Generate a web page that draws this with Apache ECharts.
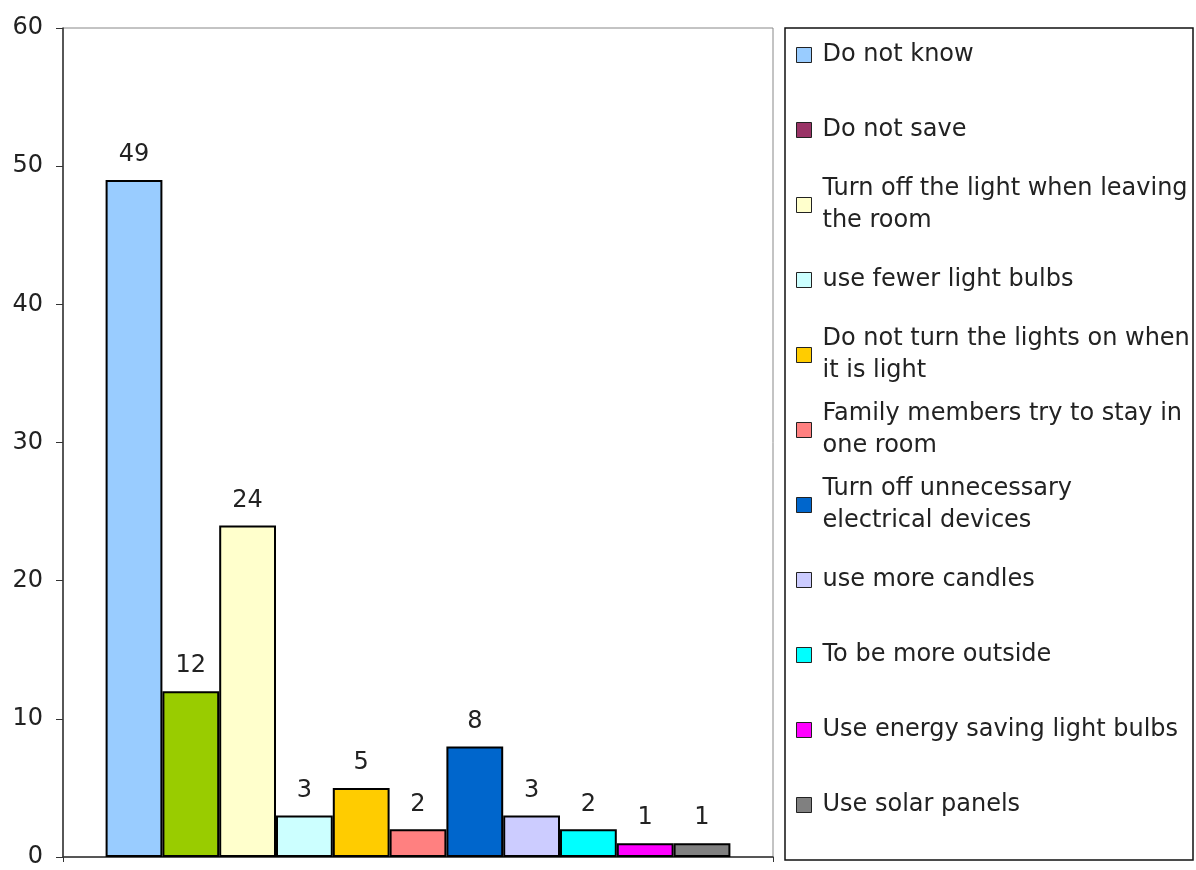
<!DOCTYPE html>
<html>
<head>
<meta charset="utf-8">
<script src="https://cdn.jsdelivr.net/npm/echarts@6/dist/echarts.min.js"></script>
<style>
  html, body { margin: 0; padding: 0; background: #fff; }
  #chart { width: 1196px; height: 870px; }
</style>
</head>
<body>
<div id="chart"></div>
<script>
const names = [
  'Do not know',
  'Do not save',
  'Turn off the light when leaving the room',
  'use fewer light bulbs',
  'Do not turn the lights on when it is light',
  'Family members try to stay in one room',
  'Turn off unnecessary electrical devices',
  'use more candles',
  'To be more outside',
  'Use energy saving light bulbs',
  'Use solar panels'
]
// legend text as wrapped in the original box
const legendLabels = [
  'Do not know',
  'Do not save',
  'Turn off the light when leaving\nthe room',
  'use fewer light bulbs',
  'Do not turn the lights on when\nit is light',
  'Family members try to stay in\none room',
  'Turn off unnecessary\nelectrical devices',
  'use more candles',
  'To be more outside',
  'Use energy saving light bulbs',
  'Use solar panels'
]
const values = [49, 12, 24, 3, 5, 2, 8, 3, 2, 1, 1]
const barColors = ['#99CCFF', '#99CC00', '#FFFFCC', '#CCFFFF', '#FFCC00', '#FF8080',
  '#0066CC', '#CCCCFF', '#00FFFF', '#FF00FF', '#808080']
// the original legend shows a different swatch for "Do not save"
const legendColors = ['#99CCFF', '#993366', '#FFFFCC', '#CCFFFF', '#FFCC00', '#FF8080',
  '#0066CC', '#CCCCFF', '#00FFFF', '#FF00FF', '#808080']
const yTicks = { min: 0, max: 60, interval: 10 }

const font = '"DejaVu Sans", Arial, sans-serif'
const LH = 32

const chart = echarts.init(document.getElementById('chart'))

chart.setOption({
  backgroundColor: '#fff',
  animation: false,
  textStyle: { fontFamily: font },
  grid: {
    left: 63, top: 28, right: 423, bottom: 13,
    show: true, borderColor: '#888', borderWidth: 1, containLabel: false
  },
  xAxis: {
    type: 'category',
    data: [''],
    axisLine: { lineStyle: { color: '#333', width: 1.5 } },
    axisTick: { show: true, length: 5, lineStyle: { color: '#333' } },
    axisLabel: { show: false },
    splitLine: { show: false }
  },
  yAxis: {
    type: 'value',
    min: yTicks.min, max: yTicks.max, interval: yTicks.interval,
    axisLine: { show: true, lineStyle: { color: '#333', width: 1.5 } },
    axisTick: { show: true, length: 7, lineStyle: { color: '#333' } },
    axisLabel: { fontSize: 24, color: '#222', margin: 20, fontFamily: font },
    splitLine: { show: false }
  },
  graphic: [{
    type: 'rect',
    shape: { x: 785, y: 28, width: 408, height: 832 },
    style: { fill: 'none', stroke: '#111', lineWidth: 1.5 },
    z: 0
  }],
  legend: {
    orient: 'vertical',
    left: 796, top: 55 - 1.5 * LH,
    padding: 0,
    itemGap: 75 - 3 * LH,
    itemWidth: 15, itemHeight: 15,
    icon: 'rect',
    selectedMode: false,
    itemStyle: { borderColor: '#222', borderWidth: 1 },
    textStyle: { fontSize: 24, color: '#222', lineHeight: LH, fontFamily: font },
    formatter: n => legendLabels[names.indexOf(n)],
    data: names.map((n, i) => ({
      name: n,
      itemStyle: { color: legendColors[i], borderColor: '#222', borderWidth: 1 },
      textStyle: {
        padding: legendLabels[i].includes('\n') ? [LH, 0, 0, 6] : [LH, 0, LH, 6]
      }
    }))
  },
  series: names.map((n, i) => ({
    name: n,
    type: 'bar',
    barGap: '0%',
    barCategoryGap: '12%',
    data: [values[i]],
    itemStyle: { color: barColors[i], borderColor: '#000', borderWidth: 2 },
    label: {
      show: true, position: 'top', distance: 13,
      fontSize: 24, color: '#222', fontFamily: font
    }
  }))
})
</script>
</body>
</html>
